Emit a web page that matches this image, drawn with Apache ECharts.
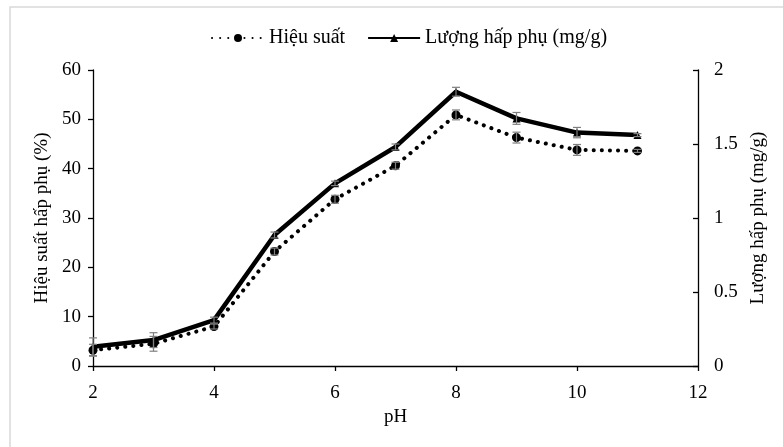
<!DOCTYPE html>
<html>
<head>
<meta charset="utf-8">
<script src="https://cdn.jsdelivr.net/npm/echarts@6/dist/echarts.min.js"></script>
<style>html,body{margin:0;padding:0;background:#fff;}#c{width:783px;height:447px;}</style>
</head>
<body>
<div id="c"></div>
<script>
const pH = [2, 3, 4, 5, 6, 7, 8, 9, 10, 11];
const hieuSuat = [3.2, 4.5, 8.0, 23.2, 33.8, 40.6, 50.9, 46.3, 43.8, 43.6];
const hieuSuatErr = [1.2, 1.5, 0.5, 0.7, 0.8, 0.7, 1.0, 1.1, 1.1, 0.3];
const luongHP = [0.13, 0.175, 0.31, 0.885, 1.234, 1.48, 1.853, 1.673, 1.577, 1.56];
const luongHPErr = [0.06, 0.05, 0.02, 0.02, 0.015, 0.02, 0.03, 0.04, 0.035, 0.01];
const xTicks = [2, 4, 6, 8, 10, 12];
const leftTicks = [0, 10, 20, 30, 40, 50, 60];
const rightTicks = [0, 0.5, 1, 1.5, 2];

const FONT = 'Liberation Serif';
const chart = echarts.init(document.getElementById('c'), null, {renderer: 'canvas'});

function errData(vals, errs) {
  return pH.map((x, i) => [x, vals[i] - errs[i], vals[i] + errs[i]]);
}
function errRender(params, api) {
  const x = api.value(0);
  const lo = api.coord([x, api.value(1)]);
  const hi = api.coord([x, api.value(2)]);
  const w = 4;
  const st = {stroke: '#7f7f7f', lineWidth: 1.2};
  return {
    type: 'group',
    children: [
      {type: 'line', shape: {x1: lo[0], y1: lo[1], x2: hi[0], y2: hi[1]}, style: st},
      {type: 'line', shape: {x1: lo[0] - w, y1: lo[1], x2: lo[0] + w, y2: lo[1]}, style: st},
      {type: 'line', shape: {x1: hi[0] - w, y1: hi[1], x2: hi[0] + w, y2: hi[1]}, style: st}
    ]
  };
}

const axisLine = {show: true, lineStyle: {color: '#000', width: 1.3}};
const labelStyle = {color: '#000', fontFamily: FONT, fontSize: 19};
const nameStyle = {color: '#000', fontFamily: FONT, fontSize: 19};

chart.setOption({
  backgroundColor: '#fff',
  animation: false,
  graphic: [{
    type: 'rect', shape: {x: 10, y: 7, width: 800, height: 500},
    style: {fill: 'none', stroke: '#d9d9d9', lineWidth: 1.5}, z: -10
  }],
  legend: {
    top: 23, left: 206, itemWidth: 52, itemHeight: 10, itemGap: 22,
    textStyle: {color: '#000', fontFamily: FONT, fontSize: 20},
    data: ['Hiệu suất', 'Lượng hấp phụ (mg/g)']
  },
  grid: {left: 93, right: 85, top: 70, bottom: 81},
  xAxis: {
    type: 'value', min: xTicks[0], max: xTicks[xTicks.length - 1], interval: 2,
    name: 'pH', nameLocation: 'middle', nameGap: 41,
    nameTextStyle: nameStyle,
    axisLine: axisLine,
    axisTick: {show: true, length: 5, lineStyle: {color: '#000', width: 1.3}},
    axisLabel: Object.assign({margin: 18}, labelStyle),
    splitLine: {show: false}
  },
  yAxis: [{
    type: 'value', min: leftTicks[0], max: leftTicks[leftTicks.length - 1], interval: 10,
    name: 'Hiệu suất hấp phụ (%)', nameLocation: 'middle', nameGap: 40, nameRotate: 90,
    nameTextStyle: nameStyle,
    axisLine: axisLine,
    axisTick: {show: true, length: 5, lineStyle: {color: '#000', width: 1.3}},
    axisLabel: Object.assign({margin: 12}, labelStyle),
    splitLine: {show: false}
  }, {
    type: 'value', position: 'right', min: rightTicks[0], max: rightTicks[rightTicks.length - 1], interval: 0.5,
    name: 'Lượng hấp phụ (mg/g)', nameLocation: 'middle', nameGap: 50, nameRotate: 90,
    nameTextStyle: nameStyle,
    axisLine: axisLine,
    axisTick: {show: true, inside: true, length: 5, lineStyle: {color: '#000', width: 1.3}},
    axisLabel: Object.assign({margin: 16}, labelStyle),
    splitLine: {show: false}
  }],
  series: [{
    name: 'Hiệu suất', type: 'line', yAxisIndex: 0,
    data: pH.map((x, i) => [x, hieuSuat[i]]),
    symbol: 'circle', symbolSize: 9,
    itemStyle: {color: '#000'},
    lineStyle: {color: '#000', width: 4, type: [0.1, 8], cap: 'round'},
    z: 3
  }, {
    name: 'Lượng hấp phụ (mg/g)', type: 'line', yAxisIndex: 1,
    data: pH.map((x, i) => [x, luongHP[i]]),
    symbol: 'triangle', symbolSize: 8,
    itemStyle: {color: '#000'},
    lineStyle: {color: '#000', width: 4.5},
    z: 3
  }, {
    type: 'custom', yAxisIndex: 0, renderItem: errRender,
    data: errData(hieuSuat, hieuSuatErr), z: 4, silent: true
  }, {
    type: 'custom', yAxisIndex: 1, renderItem: errRender,
    data: errData(luongHP, luongHPErr), z: 4, silent: true
  }]
});
</script>
</body>
</html>
